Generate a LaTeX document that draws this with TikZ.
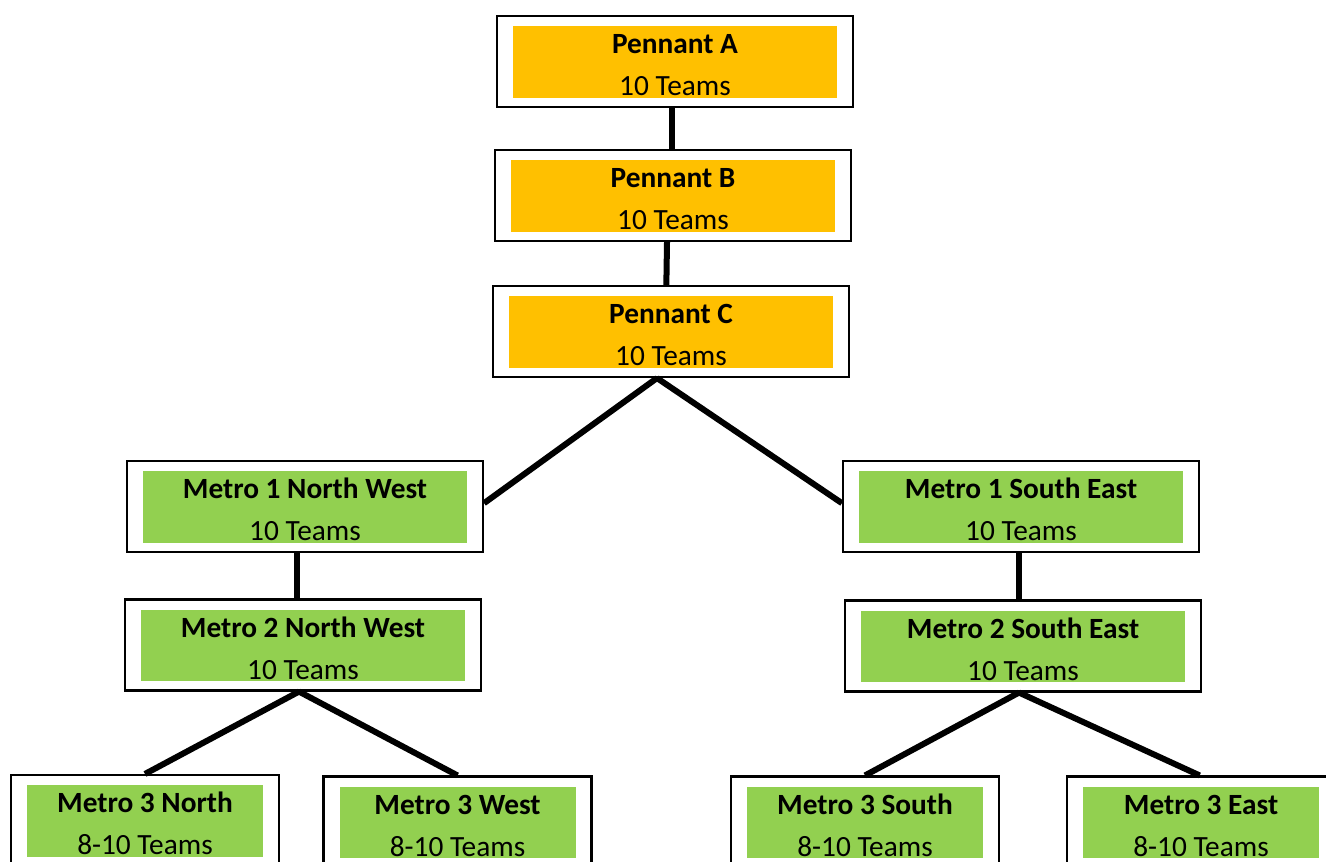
\documentclass[tikz,border=0pt]{standalone}
\usepackage{fontspec}
\setmainfont{Carlito}

\definecolor{pennant}{HTML}{FFC000}
\definecolor{metro}{HTML}{92D050}

\newcommand{\tier}[2]{\rule{0pt}{20.25pt}\textbf{#1}\\#2}

\tikzset{
	division/.style={draw, line width=1.6pt, fill=white, minimum width=267pt, minimum height=68.25pt,
		inner sep=0pt, align=center, font=\fontsize{22pt}{31.5pt}\selectfont,
		path picture={\fill[#1] ([shift={(12pt,-7.5pt)}]path picture bounding box.north west)
			rectangle ([shift={(-12pt,7pt)}]path picture bounding box.south east);}},
	lower/.style={division=#1, minimum width=201pt},
	link/.style={line width=4.5pt},
}

\begin{document}
\begin{tikzpicture}[x=0.75pt, y=-0.75pt]
	\useasboundingbox (0,0) rectangle (1326,861);
	
	\node[division=pennant] (pa) at (675,61.5) {\tier{Pennant A}{10 Teams}};
	\node[division=pennant] (pb) at (673,195.5) {\tier{Pennant B}{10 Teams}};
	\node[division=pennant] (pc) at (671,331.5) {\tier{Pennant C}{10 Teams}};
	\node[division=metro] (m1nw) at (305,506.5) {\tier{Metro 1 North West}{10 Teams}};
	\node[division=metro] (m2nw) at (303,645) {\tier{Metro 2 North West}{10 Teams}};
	\node[division=metro] (m1se) at (1021,506.5) {\tier{Metro 1 South East}{10 Teams}};
	\node[division=metro] (m2se) at (1023,646) {\tier{Metro 2 South East}{10 Teams}};
	\node[lower=metro] (m3n) at (145,820.5) {\tier{Metro 3 North}{8-10 Teams}};
	\node[lower=metro] (m3w) at (457.5,822) {\tier{Metro 3 West}{8-10 Teams}};
	\node[lower=metro] (m3s) at (865,822) {\tier{Metro 3 South}{8-10 Teams}};
	\node[lower=metro] (m3e) at (1201,822) {\tier{Metro 3 East}{8-10 Teams}};
	
	\draw[link] ([xshift=-2.5pt]pa.south) -- ([xshift=-1pt]pb.north);
	\draw[link] ([xshift=-4.5pt]pb.south) -- ([xshift=-3.5pt]pc.north);
	\draw[link] ([xshift=-10.5pt]pc.south) -- ([yshift=2.5pt]m1nw.east);
	\draw[link] ([xshift=-10.5pt]pc.south) -- ([yshift=2.5pt]m1se.west);
	\draw[link] ([xshift=-6pt]m1nw.south) -- ([xshift=-4.5pt]m2nw.north);
	\draw[link] ([xshift=-1.5pt]m1se.south) -- ([xshift=-3pt]m2se.north);
	\draw[link] ([xshift=-3pt]m2nw.south) -- (m3n.north);
	\draw[link] ([xshift=-3pt]m2nw.south) -- (m3w.north);
	\draw[link] ([xshift=-3pt]m2se.south) -- (m3s.north);
	\draw[link] ([xshift=-3pt]m2se.south) -- ([xshift=-1pt]m3e.north);
\end{tikzpicture}
\end{document}
